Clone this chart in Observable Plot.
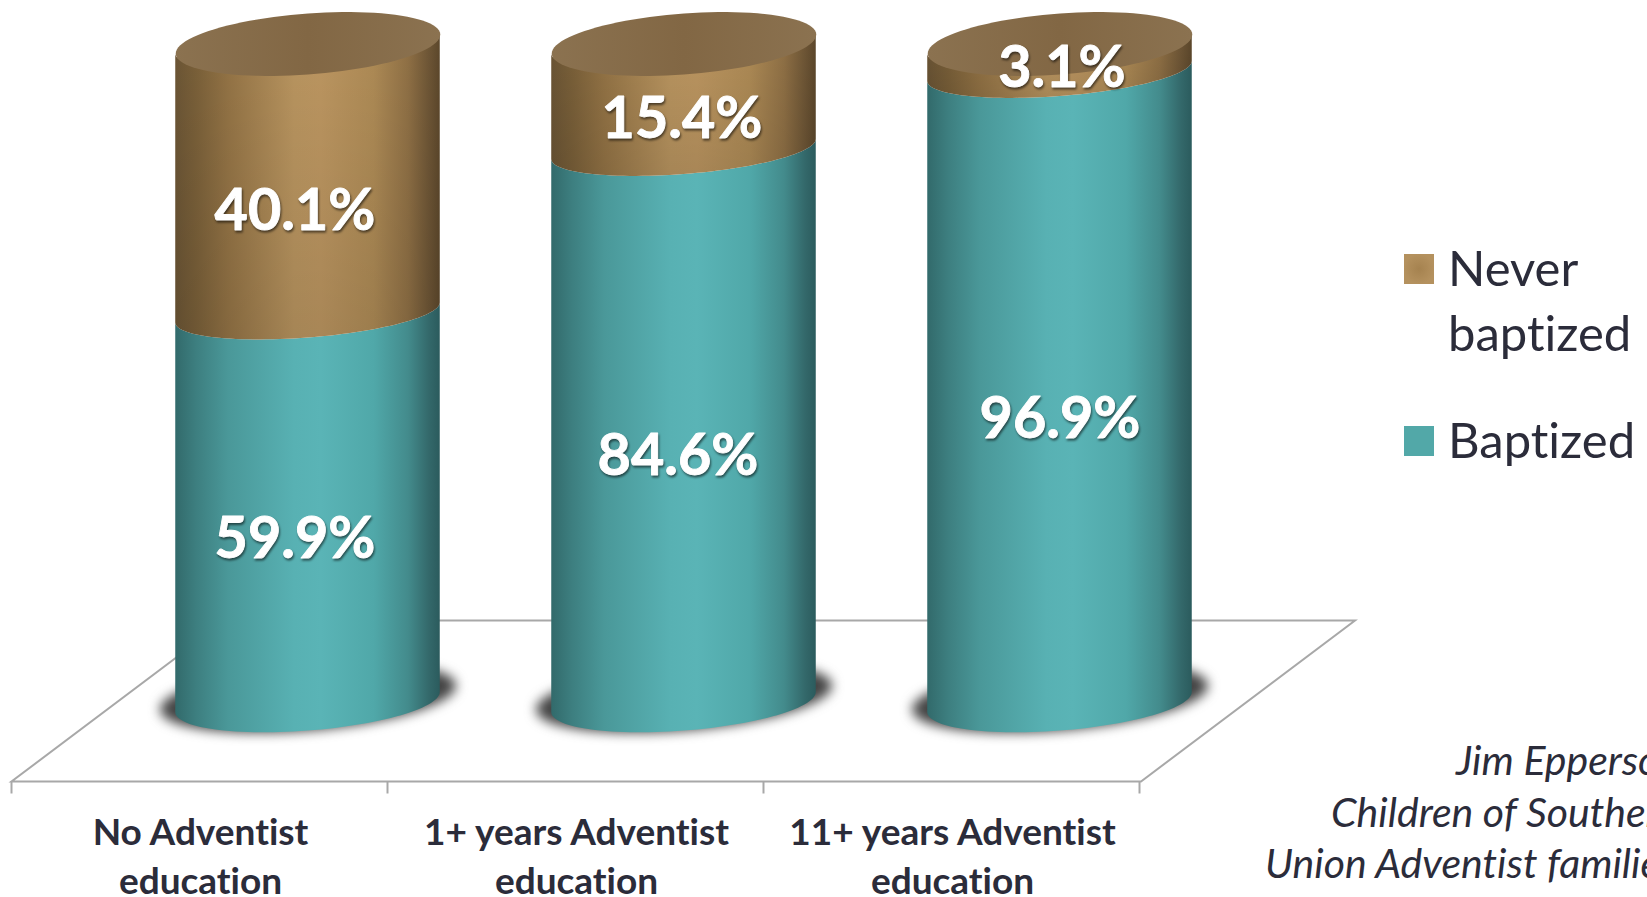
<!DOCTYPE html>
<html>
<head>
<meta charset="utf-8">
<script src="https://cdn.jsdelivr.net/npm/d3@7"></script>
<script src="https://cdn.jsdelivr.net/npm/@observablehq/plot@0.6"></script>
<style>
html,body{margin:0;padding:0;background:#fff;overflow:hidden}
svg{display:block}
</style>
</head>
<body>
<div id="chart"></div>
<script>
// ---- data ----
const categories = ["No Adventist\neducation", "1+ years Adventist\neducation", "11+ years Adventist\neducation"];
const seriesNames = ["Baptized", "Never baptized"];
const baptized = [59.9, 84.6, 96.9];
const neverBaptized = [40.1, 15.4, 3.1];
const legendLines = [["Never", "baptized"], ["Baptized"]];
const captionLines = ["Jim Epperson", "Children of Southern", "Union Adventist families"];

// label nudges off each segment's middle: [dx, dy] (the 3-D look puts text below the visual centre)
const baptizedNudge = [[-13, 32], [-6, 29], [0, 32]];
const neverNudge = [[-13, 31], [-2, 19], [2, 11]];

// ---- table built from the arrays ----
const rows = categories.flatMap((c, i) => [
  {cat: c, series: seriesNames[0], y1: 0, y2: baptized[i]},
  {cat: c, series: seriesNames[1], y1: baptized[i], y2: baptized[i] + neverBaptized[i]}
]);

const ink = "#2b2c3a";
const depthDx = 107.5;   // cylinders stand back from the front edge of the floor
const halfW = 132.25;
const tiltK = 10;        // vertical offset of the ellipse tips
const bandB = 25;        // semi-height of the segment boundaries
const baseB = 28.6;      // semi-height of the base
const topB = 30.5;       // semi-height of the top face

function ellipseSymbol(a, b, k) {
  return {
    draw(ctx) {
      for (let i = 0; i <= 96; ++i) {
        const t = (i / 96) * 2 * Math.PI;
        const x = a * Math.cos(t), y = -k * Math.cos(t) + b * Math.sin(t);
        i ? ctx.lineTo(x, y) : ctx.moveTo(x, y);
      }
      ctx.closePath();
    }
  };
}

// front arc of a tilted ellipse, from left to right (or right to left)
function arc(cx, cy, b, k, reverse) {
  const pts = [];
  for (let i = 0; i <= 60; ++i) {
    const t = Math.PI * (reverse ? i / 60 : 1 - i / 60);
    pts.push([cx + halfW * Math.cos(t), cy - k * Math.cos(t) + b * Math.sin(t)]);
  }
  return pts;
}

// bars are drawn by Plot, then reshaped into curved cylinder segments
function cylinderRender(index, scales, values, dims, ctx, next) {
  const g = next(index, scales, values, dims, ctx);
  d3.select(g).selectAll("rect").each(function () {
    const r = d3.select(this);
    const x = +r.attr("x"), y = +r.attr("y"), w = +r.attr("width"), h = +r.attr("height");
    const cx = x + w / 2, yTop = y, yBot = y + h;
    const isBase = yBot > scales.y(0) - 1;
    const pts = [...arc(cx, yTop, bandB, tiltK, false), ...arc(cx, yBot, isBase ? baseB : bandB, tiltK, true)];
    const fill = r.attr("fill");
    const parent = d3.select(this.parentNode);
    parent.append("path").attr("d", d3.line()(pts) + "Z").attr("fill", fill);
    if (fill.includes("brown")) parent.append("path").attr("d", d3.line()(pts) + "Z").attr("fill", "url(#brownShade)");
    r.remove();
  });
  return g;
}

function stops(el, list) {
  list.forEach(([o, c, a]) => {
    const s = el.append("stop").attr("offset", o).attr("stop-color", c);
    if (a !== undefined) s.attr("stop-opacity", a);
  });
}

const defsMark = () => {
  const svg = d3.create("svg:g");
  const defs = svg.append("defs");
  stops(defs.append("linearGradient").attr("id", "teal"), [
    [0, "#326a6b"], [.08, "#3d7f80"], [.2, "#4a9899"], [.45, "#58b1b3"], [.55, "#5ab4b6"],
    [.75, "#50a8a9"], [.88, "#438b8c"], [.96, "#33686a"], [1, "#2b5b5d"]]);
  stops(defs.append("linearGradient").attr("id", "brown"), [
    [0, "#6b5535"], [.08, "#7a6039"], [.2, "#937345"], [.45, "#b8945f"], [.55, "#bb9560"],
    [.75, "#ad8a55"], [.88, "#8f7045"], [.96, "#6d5535"], [1, "#5c472b"]]);
  stops(defs.append("linearGradient").attr("id", "brownShade").attr("x1", 0).attr("x2", 0).attr("y1", 0).attr("y2", 1), [
    [0, "#000", 0], [1, "#000", .1]]);
  stops(defs.append("linearGradient").attr("id", "topFace"), [
    [0, "#8b7250"], [.5, "#826744"], [1, "#8b7250"]]);
  stops(defs.append("radialGradient").attr("id", "keyBrown"), [
    [0, "#a5824f"], [1, "#b4915e"]]);
  return svg.node();
};

// floor of the 3-D chart: front edge is the frame's bottom, ticks at the band boundaries
const floorMark = (index, {x}, values, dims) => {
  const y0 = dims.height - dims.marginBottom, x0 = dims.marginLeft, x1 = dims.width - dims.marginRight;
  const dxBack = 214, dyBack = 161;
  const g = d3.create("svg:g").attr("fill", "none").attr("stroke", "#a8a8a8").attr("stroke-width", 2);
  g.append("path").attr("d", `M${x0},${y0}L${x1},${y0}L${x1 + dxBack},${y0 - dyBack}L${x0 + dxBack},${y0 - dyBack}Z`);
  const step = x.step();
  [0, 1, 2, 3].forEach(i => g.append("line").attr("x1", x0 + i * step).attr("x2", x0 + i * step).attr("y1", y0).attr("y2", y0 + 12));
  return g.node();
};

const legendMark = () => {
  const g = d3.create("svg:g").attr("font-family", "Lato, sans-serif").attr("font-size", 49).attr("fill", ink).attr("text-anchor", "start");
  const keys = [{top: 254, fill: "url(#keyBrown)", textY: [286, 351]}, {top: 426, fill: "#52a8a8", textY: [458]}];
  keys.forEach((k, i) => {
    g.append("rect").attr("x", 1404).attr("y", k.top).attr("width", 30).attr("height", 30).attr("fill", k.fill);
    legendLines[i].forEach((t, j) => g.append("text").attr("x", 1448).attr("y", k.textY[j]).text(t));
  });
  const cap = d3.create("svg:g").attr("font-family", "Lato, sans-serif").attr("font-style", "italic").attr("font-size", 41).attr("fill", ink);
  [[1456, 775], [1331, 827], [1265, 878]].forEach(([x, y], i) => cap.append("text").attr("x", x).attr("y", y).text(captionLines[i]));
  g.node().appendChild(cap.node());
  return g.node();
};

const valueMarks = (vals, nudges, mid) => vals.map((v, i) =>
  Plot.text([{cat: categories[i], v, m: mid(i)}], {
    x: "cat", y: "m", text: d => d.v.toFixed(1) + "%",
    dx: depthDx + nudges[i][0], dy: nudges[i][1],
    fill: "white", stroke: "white", strokeWidth: 0.9, fontFamily: "Lato, sans-serif", fontWeight: 700, fontSize: 57.5,
    imageFilter: "drop-shadow(1px 2px 1px rgba(0,0,0,.55))"
  }));

const cols = categories.map(c => ({cat: c}));

const chart = Plot.plot({
  width: 1647,
  height: 897,
  marginLeft: 11.5,
  marginRight: 506,
  marginTop: 0,
  marginBottom: 115.5,
  style: {background: "white", overflow: "hidden", fontVariantLigatures: "none"},
  x: {domain: categories, padding: 0, axis: null},
  // perspective makes the cylinder's height slightly non-uniform: anchored at the segment edges
  y: {type: "linear", domain: [0, 59.9, 84.6, 96.9, 100], range: [702, 312.5, 149, 71, 43.5], axis: null},
  color: {domain: seriesNames, range: ["url(#teal)", "url(#brown)"]},
  marks: [
    defsMark,
    floorMark,
    Plot.axisX({
      anchor: "bottom", tickSize: 0, tickPadding: 28, label: null, lineHeight: 1.335, lineAnchor: "top",
      fontSize: 37, fontWeight: 700, fontFamily: "Lato, sans-serif", fill: ink
    }),
    Plot.dot(cols, {x: "cat", y: () => 0, dx: depthDx, dy: -5, symbol: ellipseSymbol(148, 33, 12), fill: "#444", imageFilter: "blur(6px)"}),
    Plot.barY(rows, {x: "cat", y1: "y1", y2: "y2", fill: "series", dx: depthDx, insetLeft: 56, insetRight: 56, render: cylinderRender}),
    Plot.dot(cols, {x: "cat", y: () => 100, dx: depthDx, symbol: ellipseSymbol(halfW, topB, 9.5), fill: "url(#topFace)"}),
    ...valueMarks(baptized, baptizedNudge, i => baptized[i] / 2),
    ...valueMarks(neverBaptized, neverNudge, i => baptized[i] + neverBaptized[i] / 2),
    legendMark
  ]
});
document.getElementById("chart").appendChild(chart);
</script>
</body>
</html>
